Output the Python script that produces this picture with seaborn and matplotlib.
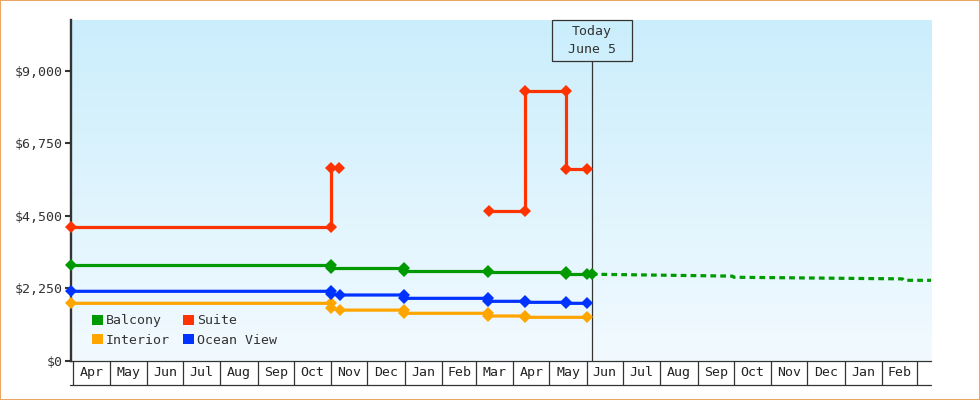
import numpy as np
import pandas as pd
import matplotlib
matplotlib.use("Agg")
import matplotlib.pyplot as plt
from matplotlib.patches import Rectangle, Patch
from matplotlib.lines import Line2D
from matplotlib.ticker import FixedLocator, FixedFormatter
import seaborn as sns

# ---------------- data ----------------
START = "2014-03-30 00:00"
END = "2016-03-12 17:00"
TODAY = "2015-06-05 00:00"

balcony_dates = [START, "2014-11-01", "2014-11-01", "2014-12-31", "2014-12-31",
                 "2015-03-11", "2015-03-11", "2015-05-15", "2015-05-15",
                 "2015-06-01", "2015-06-05"]
balcony_prices = [2960, 2960, 2867, 2867, 2786, 2786, 2740, 2740, 2684, 2684, 2684]

interior_dates = [START, "2014-11-01", "2014-11-01", "2014-11-08", "2014-12-31",
                  "2014-12-31", "2015-03-11", "2015-03-11", "2015-04-11",
                  "2015-04-11", "2015-06-01"]
interior_prices = [1781, 1781, 1626, 1570, 1570, 1471, 1471, 1387, 1387, 1346, 1346]

ocean_dates = [START, "2014-11-01", "2014-11-01", "2014-11-08", "2014-12-31",
               "2014-12-31", "2015-03-11", "2015-03-11", "2015-04-11",
               "2015-04-11", "2015-05-15", "2015-05-15", "2015-06-01"]
ocean_prices = [2154, 2154, 2070, 2039, 2039, 1936, 1936, 1843, 1843, 1812, 1812, 1781, 1781]

suite_dates_a = [START, "2014-11-01", "2014-11-01", "2014-11-07"]
suite_prices_a = [4139, 4139, 5970, 5970]
suite_dates_b = ["2015-03-12", "2015-04-11", "2015-04-11", "2015-05-15",
                 "2015-05-15", "2015-06-01"]
suite_prices_b = [4645, 4645, 8360, 8360, 5958, 5958]

forecast_dates = [TODAY, "2015-09-30", "2015-10-01", "2016-02-18", "2016-02-19", END]
forecast_prices = [2684, 2625, 2590, 2540, 2495, 2495]

month_labels = ["Apr", "May", "Jun", "Jul", "Aug", "Sep", "Oct", "Nov", "Dec",
                "Jan", "Feb", "Mar", "Apr", "May", "Jun", "Jul", "Aug", "Sep",
                "Oct", "Nov", "Dec", "Jan", "Feb"]
month_first = "2014-04-01"
ytick_values = [0, 2250, 4500, 6750, 9000]
ytick_labels = ["$0", "$2,250", "$4,500", "$6,750", "$9,000"]
series_names = ["Balcony", "Interior", "Suite", "Ocean View"]
colors = {"Balcony": "#009900", "Interior": "#ffa500",
          "Suite": "#ff3300", "Ocean View": "#0033ff"}

# ---------------- build frame ----------------
rows = []
def add(name, seg, ds, ps):
    for d, p in zip(ds, ps):
        rows.append((name, seg, pd.Timestamp(d), p))
add("Balcony", 0, balcony_dates, balcony_prices)
add("Interior", 0, interior_dates, interior_prices)
add("Ocean View", 0, ocean_dates, ocean_prices)
add("Suite", 0, suite_dates_a, suite_prices_a)
add("Suite", 1, suite_dates_b, suite_prices_b)
df = pd.DataFrame(rows, columns=["room", "seg", "date", "price"])
fc = pd.DataFrame({"date": [pd.Timestamp(d) for d in forecast_dates],
                   "price": forecast_prices})

# ---------------- style ----------------
sns.set_style("white")
plt.rcParams["font.family"] = ["DejaVu Sans Mono", "DejaVu Sans"]
TXT = "#333333"

W, H = 980, 400
fig = plt.figure(figsize=(W / 100, H / 100), dpi=100)
pos = [71 / W, (H - 360.7) / H, 860 / W, 340.7 / H]

# gradient background
bg = fig.add_axes(pos, zorder=-1)
top = np.array([203, 238, 252]) / 255
bot = np.array([242, 250, 255]) / 255
t = np.linspace(0, 1, 256)[:, None]
grad = (top[None, :] * (1 - t) + bot[None, :] * t)[:, None, :]
bg.imshow(grad, aspect="auto", extent=[0, 1, 0, 1], interpolation="bilinear")
bg.axis("off")

ax = fig.add_axes(pos)
ax.set_facecolor("none")

xmin, xmax = pd.Timestamp(START), pd.Timestamp(END)
today = pd.Timestamp(TODAY)

# today marker line (behind data)
box_bottom = (360.7 - 60.7) / 340.7
ax.axvline(today, ymin=0, ymax=box_bottom, color=TXT, lw=0.9, zorder=1.5)

for name in ["Interior", "Ocean View", "Balcony", "Suite"]:
    sub = df[df.room == name]
    sns.lineplot(data=sub, x="date", y="price", units="seg", estimator=None,
                 sort=False, color=colors[name], lw=2.3, marker="D",
                 markersize=6, markeredgewidth=0, ax=ax, legend=False, zorder=3)

sns.lineplot(data=fc, x="date", y="price", estimator=None, sort=False,
             color=colors["Balcony"], lw=2.3, ax=ax, legend=False,
             zorder=3, linestyle=(0, (1.8, 1.3)))

for ln in ax.get_lines():
    if ln.get_zorder() == 3:
        ln.set_clip_on(False)

ax.set_xlim(xmin, xmax)
ax.set_ylim(0, 10575)
ax.set_xlabel("")
ax.set_ylabel("")

# spines / ticks
for s in ["top", "right"]:
    ax.spines[s].set_visible(False)
ax.spines["left"].set_color(TXT)
ax.spines["left"].set_linewidth(1.7)
ax.spines["bottom"].set_color(TXT)
ax.spines["bottom"].set_linewidth(0.9)
ax.yaxis.set_major_locator(FixedLocator(ytick_values))
ax.yaxis.set_major_formatter(FixedFormatter(ytick_labels))
ax.tick_params(axis="y", direction="out", length=4, width=1.5, color=TXT,
               labelsize=9.5, labelcolor=TXT, pad=2, left=True)
ax.set_xticks([])

# month boxes under the axis
xt = ax.get_xaxis_transform()
bounds = pd.date_range(month_first, periods=len(month_labels) + 1, freq="MS")
ybot = -(384.7 - 360.7) / 340.7
for b in bounds:
    ax.add_line(Line2D([b, b], [0, ybot], transform=xt, color=TXT, lw=0.9,
                       clip_on=False))
ax.add_line(Line2D([xmin - pd.Timedelta(days=1), xmax], [ybot, ybot], transform=xt,
                   color=TXT, lw=0.9, clip_on=False))
for i, lab in enumerate(month_labels):
    mid = bounds[i] + (bounds[i + 1] - bounds[i]) / 2
    ax.text(mid, ybot / 2, lab, transform=xt, ha="center", va="center",
            fontsize=9.5, color="#222222")

# today box
half = pd.Timedelta(days=33.2)
ax.add_patch(Rectangle((today - half, box_bottom), 2 * half, 1 - box_bottom,
                       transform=xt, facecolor="none", edgecolor=TXT, lw=0.9,
                       clip_on=False, zorder=4))
ax.text(today, (1 + box_bottom) / 2, "Today\nJune 5", transform=xt, ha="center",
        va="center", fontsize=9.5, color=TXT, linespacing=1.45, zorder=4)

# legend
handles = [Patch(facecolor=colors[n], edgecolor="none", label=n) for n in series_names]
ax.legend(handles=handles, ncol=2, loc="upper left",
          bbox_to_anchor=(0.0245, 0.136), frameon=False, fontsize=9.5,
          handlelength=0.8, handleheight=0.8, handletextpad=0.25,
          columnspacing=1.0, labelspacing=0.5, borderpad=0, borderaxespad=0,
          labelcolor=TXT)

# outer border
fig.patches.append(Rectangle((0, 0), 1, 1, transform=fig.transFigure, fill=False,
                             edgecolor="#eaa864", lw=1.5, zorder=10))

fig.savefig("out.png", dpi=100)
